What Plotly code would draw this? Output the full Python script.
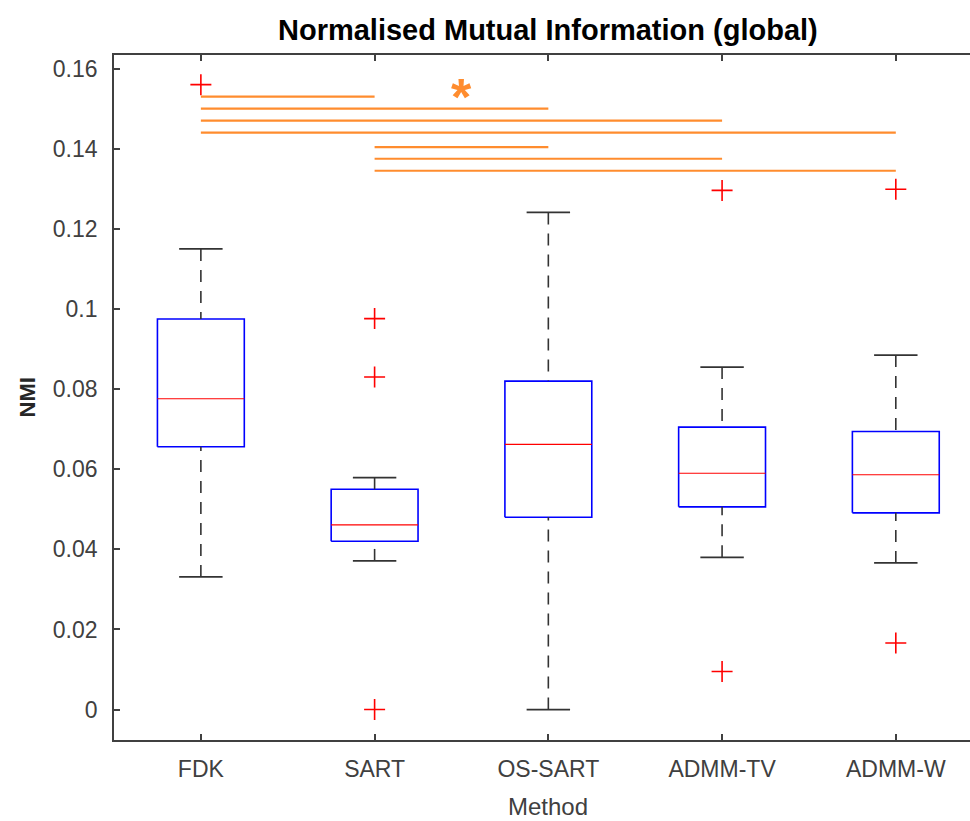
import plotly.graph_objects as go

# Reconstruction methods and per-method box statistics (NMI)
methods = ["FDK", "SART", "OS-SART", "ADMM-TV", "ADMM-W"]
lower_whisker = [0.0331, 0.0371, 0.0000, 0.0380, 0.0366]
q1 = [0.0656, 0.0420, 0.0480, 0.0506, 0.0491]
median = [0.0776, 0.0461, 0.0662, 0.0590, 0.0586]
q3 = [0.0975, 0.0550, 0.0820, 0.0705, 0.0694]
upper_whisker = [0.1150, 0.0579, 0.1241, 0.0855, 0.0885]
outliers = [[0.1560], [0.0976, 0.0830, 0.0], [], [0.1296, 0.0095], [0.1299, 0.0166]]

# Pairwise significance bars (method index pairs) and their heights
sig_pairs = [(0, 1), (0, 2), (0, 3), (0, 4), (1, 2), (1, 3), (1, 4)]
sig_levels = [0.1530, 0.1500, 0.1470, 0.1440, 0.1404, 0.1375, 0.1345]
star_pos = (2.5, 0.1555)

y_ticks = [0, 0.02, 0.04, 0.06, 0.08, 0.1, 0.12, 0.14, 0.16]
y_ticktext = ["0", "0.02", "0.04", "0.06", "0.08", "0.1", "0.12", "0.14", "0.16"]

BOX_HALF = 0.25
CAP_HALF = 0.125
FONT = "Liberation Sans, Arial, Helvetica, sans-serif"
AXIS_COLOR = "#404040"
ORANGE = "#FF8C2E"

fig = go.Figure()

pos = list(range(1, len(methods) + 1))

# Boxes (blue outlines)
bx, by = [], []
for x, a, b in zip(pos, q1, q3):
    bx += [x - BOX_HALF, x + BOX_HALF, x + BOX_HALF, x - BOX_HALF, x - BOX_HALF, None]
    by += [a, a, b, b, a, None]
fig.add_trace(go.Scatter(x=bx, y=by, mode="lines", line=dict(color="#0000FF", width=1.6),
                         hoverinfo="skip"))

# Medians (red)
mx, my = [], []
for x, m in zip(pos, median):
    mx += [x - BOX_HALF, x + BOX_HALF, None]
    my += [m, m, None]
fig.add_trace(go.Scatter(x=mx, y=my, mode="lines", line=dict(color="#FF0000", width=1.1),
                         hoverinfo="skip"))

# Dashed whiskers
wx, wy = [], []
for x, lw, a, b, uw in zip(pos, lower_whisker, q1, q3, upper_whisker):
    wx += [x, x, None, x, x, None]
    wy += [uw, b, None, lw, a, None]
fig.add_trace(go.Scatter(x=wx, y=wy, mode="lines",
                         line=dict(color="#333333", width=1.6, dash="12px,9px"),
                         hoverinfo="skip"))

# Whisker caps
cx, cy = [], []
for x, lw, uw in zip(pos, lower_whisker, upper_whisker):
    cx += [x - CAP_HALF, x + CAP_HALF, None, x - CAP_HALF, x + CAP_HALF, None]
    cy += [uw, uw, None, lw, lw, None]
fig.add_trace(go.Scatter(x=cx, y=cy, mode="lines", line=dict(color="#333333", width=1.8),
                         hoverinfo="skip"))

# Outliers
ox, oy = [], []
for x, vals in zip(pos, outliers):
    for v in vals:
        ox.append(x)
        oy.append(v)
fig.add_trace(go.Scatter(x=ox, y=oy, mode="markers",
                         marker=dict(symbol="cross-thin", size=15,
                                     line=dict(color="#FF0000", width=1.6)),
                         hoverinfo="skip"))

# Significance bars
sx, sy = [], []
for (i, j), lvl in zip(sig_pairs, sig_levels):
    sx += [pos[i], pos[j], None]
    sy += [lvl, lvl, None]
fig.add_trace(go.Scatter(x=sx, y=sy, mode="lines", line=dict(color=ORANGE, width=2.2),
                         hoverinfo="skip"))

annotations = [
    dict(x=star_pos[0], y=star_pos[1], xref="x", yref="y", text="<b>*</b>",
         showarrow=False, font=dict(family=FONT, size=52, color=ORANGE),
         xanchor="center", yanchor="middle", yshift=-10),
    dict(x=3, y=1, xref="x", yref="paper", text="<b>Normalised Mutual Information (global)</b>",
         showarrow=False, font=dict(family=FONT, size=29, color="#000000"),
         xanchor="center", yanchor="middle", yshift=25),
    dict(x=0, y=0.5, xref="paper", yref="paper", text="<b>NMI</b>",
         showarrow=False, font=dict(family=FONT, size=22, color="#262626"),
         textangle=-90, xanchor="center", yanchor="middle", xshift=-87),
    dict(x=3, y=0, xref="x", yref="paper", text="Method",
         showarrow=False, font=dict(family=FONT, size=24, color="#404040"),
         xanchor="center", yanchor="middle", yshift=-66),
]

fig.update_layout(
    width=970, height=821,
    margin=dict(l=114, r=0, t=55, b=81, pad=0),
    paper_bgcolor="white", plot_bgcolor="white",
    showlegend=False,
    annotations=annotations,
    font=dict(family=FONT, color="#404040"),
)

fig.update_xaxes(
    range=[0.5, 5.427], tickvals=pos, ticktext=methods,
    showgrid=False, zeroline=False,
    showline=True, linecolor=AXIS_COLOR, linewidth=1.8, mirror="ticks",
    ticks="inside", ticklen=6, tickwidth=1.5, tickcolor=AXIS_COLOR,
    tickfont=dict(family=FONT, size=23, color="#404040"),
    ticklabelstandoff=7,
)
fig.update_yaxes(
    range=[-0.0076, 0.1634], tickvals=y_ticks, ticktext=y_ticktext,
    showgrid=False, zeroline=False,
    showline=True, linecolor=AXIS_COLOR, linewidth=1.8, mirror=False,
    ticks="inside", ticklen=6, tickwidth=1.5, tickcolor=AXIS_COLOR,
    tickfont=dict(family=FONT, size=23, color="#404040"),
    ticklabelstandoff=10,
)

fig.write_html("out.html")
